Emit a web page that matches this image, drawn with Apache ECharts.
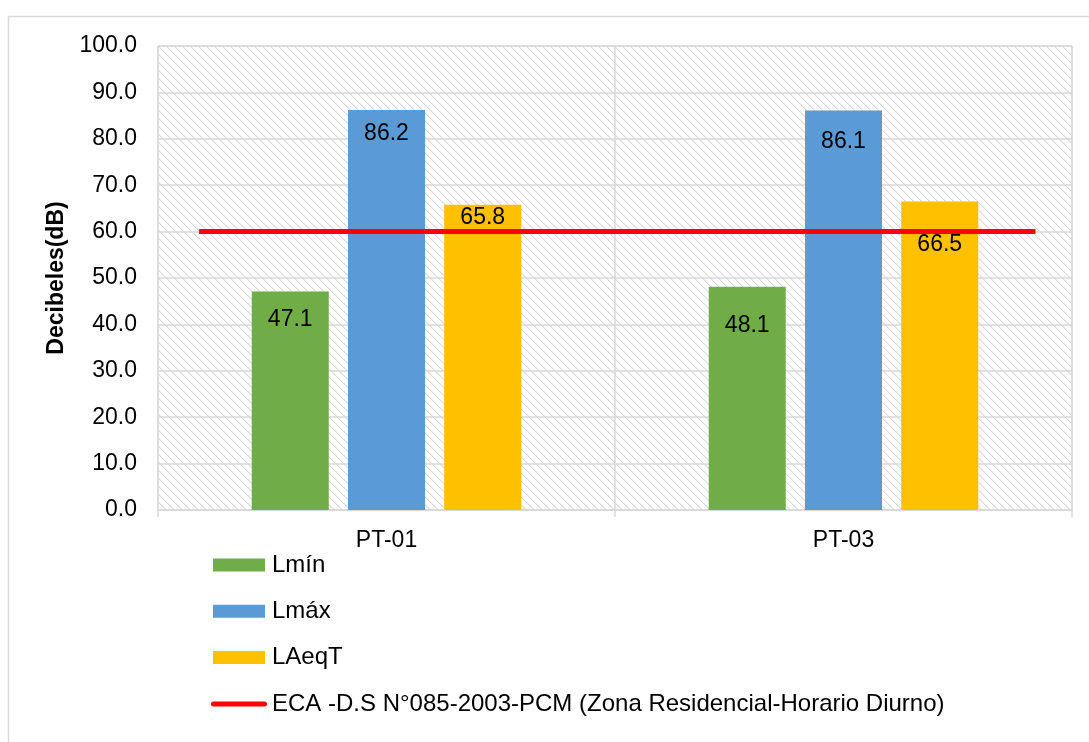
<!DOCTYPE html>
<html>
<head>
<meta charset="utf-8">
<script src="https://cdn.jsdelivr.net/npm/echarts@6/dist/echarts.min.js"></script>
<style>
  html, body { margin: 0; padding: 0; background: #fff; }
  #chart { width: 1089px; height: 742px; }
</style>
</head>
<body>
<div id="chart"></div>
<script>
// Monitoring points and measured sound levels (dB)
const categories = ['PT-01', 'PT-03'];
const lmin = [47.1, 48.1];
const lmax = [86.2, 86.1];
const laeqt = [65.8, 66.5];
// ECA limit for residential zone, daytime
const ecaLimit = [60, 60];
const yTicks = [0, 100, 10];

const seriesNames = ['Lmín', 'Lmáx', 'LAeqT', 'ECA -D.S N°085-2003-PCM (Zona Residencial-Horario Diurno)'];

// Layout / styling
const FONT = '"Liberation Sans", Arial, sans-serif';
const GRID_COLOR = '#d9d9d9';
// extent of the limit line, in category-index units
const limitExtent = [-0.41, 1.42];
// vertical placement of each value label inside its bar (px from bar top)
const labelDrop = {
  lmin: [17, 27],
  lmax: [12, 20],
  laeqt: [1, 32]
};

// light diagonal hatch used as plot background
function hatchPattern() {
  const c = document.createElement('canvas');
  c.width = 8; c.height = 8;
  const g = c.getContext('2d');
  g.fillStyle = '#ffffff';
  g.fillRect(0, 0, 8, 8);
  for (let i = 0; i < 8; i++) {
    g.fillStyle = '#dadada';
    g.fillRect(i, i, 1, 1);
    g.fillStyle = '#ededed';
    g.fillRect((i + 1) % 8, i, 1, 1);
  }
  return { image: c, repeat: 'repeat' };
}

function barData(values, drops) {
  return values.map((v, i) => ({ value: v, label: { distance: drops[i] } }));
}

const barLabel = {
  show: true,
  position: 'insideTop',
  color: '#000',
  fontFamily: FONT,
  fontSize: 23,
  formatter: p => p.value.toFixed(1)
};

// thin rounded bar used as the legend icon of the limit line
const lineIcon = 'path://M2.5,0 L53.5,0 A2.5,2.5,0,0,1,53.5,5 L2.5,5 A2.5,2.5,0,0,1,2.5,0 Z';
const boxIcon = 'path://M2,0 H54 V13 H2 Z';

const chart = echarts.init(document.getElementById('chart'), null, { renderer: 'canvas' });

chart.setOption({
  backgroundColor: '#fff',
  animation: false,
  graphic: [{
    type: 'rect',
    z: -10,
    shape: { x: 8.5, y: 16.5, width: 1200, height: 800 },
    style: { fill: 'none', stroke: GRID_COLOR, lineWidth: 1.5 }
  }],
  grid: {
    left: 158, right: 17, top: 46, bottom: 232,
    show: true,
    backgroundColor: hatchPattern(),
    borderColor: GRID_COLOR,
    borderWidth: 1
  },
  legend: {
    orient: 'vertical',
    left: 211,
    top: 553,
    padding: 0,
    itemWidth: 56,
    itemHeight: 13,
    itemGap: 22.3,
    symbolKeepAspect: true,
    textStyle: { fontFamily: FONT, fontSize: 24, color: '#000', lineHeight: 24 },
    data: [
      { name: seriesNames[0], icon: boxIcon },
      { name: seriesNames[1], icon: boxIcon },
      { name: seriesNames[2], icon: boxIcon },
      { name: seriesNames[3], icon: lineIcon, itemStyle: { color: '#FF0000' } }
    ]
  },
  xAxis: [{
    type: 'category',
    data: categories,
    boundaryGap: true,
    axisLine: { show: true, lineStyle: { color: GRID_COLOR, width: 1.5 } },
    axisTick: { show: true, length: 7, lineStyle: { color: GRID_COLOR, width: 1.5 } },
    splitLine: { show: true, lineStyle: { color: GRID_COLOR, width: 1.5 } },
    axisLabel: { fontFamily: FONT, fontSize: 23, color: '#000', margin: 19 }
  }, {
    type: 'value',
    min: -0.5,
    max: 1.5,
    show: false
  }],
  yAxis: {
    type: 'value',
    min: yTicks[0],
    max: yTicks[1],
    interval: yTicks[2],
    name: 'Decibeles(dB)',
    nameLocation: 'middle',
    nameRotate: 90,
    nameGap: 89,
    nameTextStyle: { fontFamily: FONT, fontSize: 23, fontWeight: 'bold', color: '#000' },
    axisLine: { show: false },
    axisTick: { show: false },
    splitLine: { show: true, lineStyle: { color: GRID_COLOR, width: 1.5 } },
    axisLabel: {
      fontFamily: FONT, fontSize: 23, color: '#000', margin: 21,
      formatter: v => v.toFixed(1)
    }
  },
  series: [{
    name: seriesNames[0],
    type: 'bar',
    barWidth: 77,
    barGap: '25%',
    itemStyle: { color: '#70AD47' },
    label: barLabel,
    data: barData(lmin, labelDrop.lmin)
  }, {
    name: seriesNames[1],
    type: 'bar',
    barWidth: 77,
    barGap: '25%',
    itemStyle: { color: '#5B9BD5' },
    label: barLabel,
    data: barData(lmax, labelDrop.lmax)
  }, {
    name: seriesNames[2],
    type: 'bar',
    barWidth: 77,
    barGap: '25%',
    itemStyle: { color: '#FFC000' },
    label: barLabel,
    data: barData(laeqt, labelDrop.laeqt)
  }, {
    name: seriesNames[3],
    type: 'line',
    xAxisIndex: 1,
    symbol: 'none',
    z: 5,
    lineStyle: { color: '#FF0000', width: 5, cap: 'butt' },
    itemStyle: { color: '#FF0000' },
    data: ecaLimit.map((v, i) => [limitExtent[i], v])
  }]
});
</script>
</body>
</html>
